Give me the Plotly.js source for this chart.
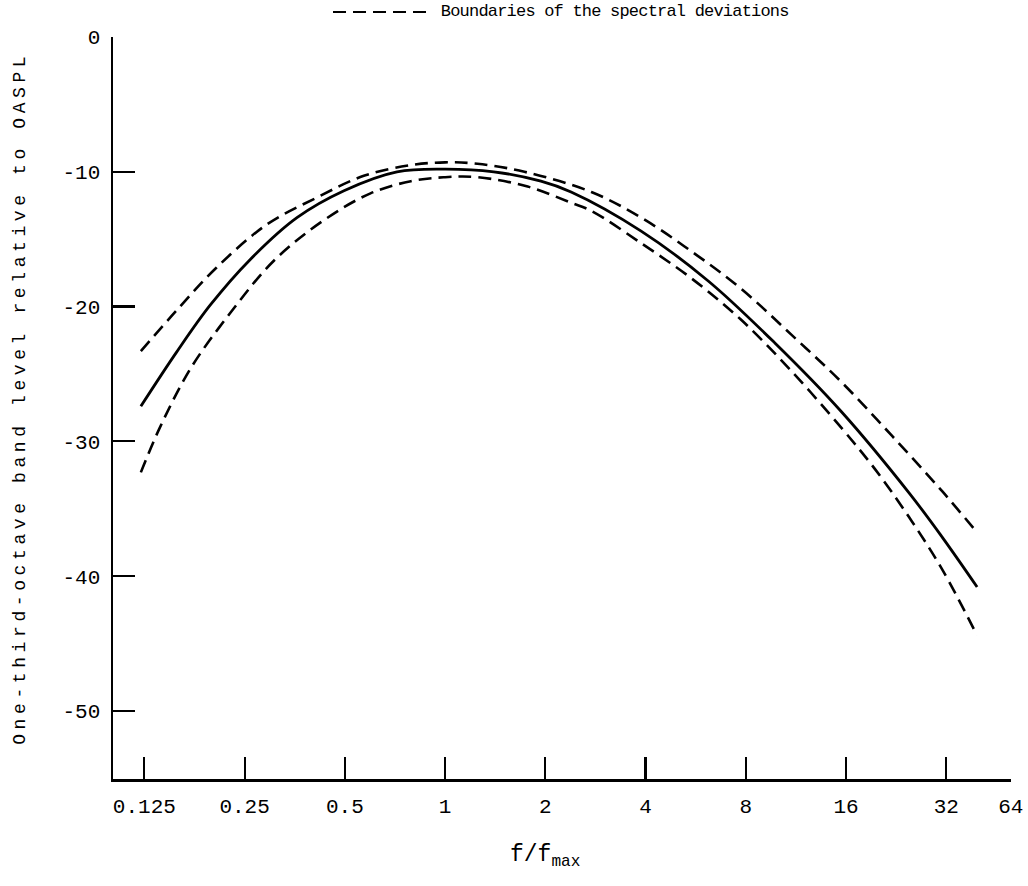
<!DOCTYPE html>
<html>
<head>
<meta charset="utf-8">
<script src="https://cdn.plot.ly/plotly-3.0.1.min.js"></script>
<style>
  html, body { margin: 0; padding: 0; background: #fff; }
  #chart { width: 1028px; height: 886px; }
  g.annotation[data-index="1"] text { letter-spacing: 4.6px; }
  g.annotation[data-index="2"] text { letter-spacing: -0.8px; }
</style>
</head>
<body>
<div id="chart"></div>
<script>
// f/fmax values and one-third-octave band level relative to OASPL (dB)
const solidX = [0.122, 0.156, 0.197, 0.260, 0.359, 0.497, 0.717, 1.0, 1.40, 1.94, 2.39, 3.88, 6.17, 9.78, 15.5, 24.7, 31.1, 39.6];
const solidY = [-27.4, -23.4, -19.9, -16.5, -13.4, -11.4, -10.0, -9.8, -10.0, -10.7, -11.5, -14.4, -18.1, -22.7, -27.8, -33.8, -37.1, -40.8];

const upperX = [0.122, 0.156, 0.206, 0.292, 0.413, 0.570, 0.789, 1.0, 1.25, 1.73, 2.75, 3.88, 5.49, 7.76, 10.98, 15.5, 22.0, 31.1, 39.1];
const upperY = [-23.3, -20.3, -17.1, -13.9, -11.9, -10.3, -9.5, -9.3, -9.4, -10.0, -11.5, -13.4, -15.9, -18.7, -22.1, -25.6, -29.6, -33.7, -36.6];

const lowerX = [0.122, 0.139, 0.172, 0.226, 0.306, 0.432, 0.597, 0.789, 1.0, 1.25, 1.77, 2.39, 2.75, 3.88, 5.49, 7.76, 10.98, 15.5, 19.6, 24.7, 31.1, 39.6];
const lowerY = [-32.3, -29.0, -24.6, -20.5, -16.6, -13.6, -11.6, -10.7, -10.4, -10.4, -11.1, -12.3, -12.9, -15.3, -17.9, -21.0, -24.8, -29.0, -32.1, -35.6, -39.5, -44.4];

const xTickVals = [0.125, 0.25, 0.5, 1, 2, 4, 8, 16, 32, 50];
const xTickText = ["0.125", "0.25", "0.5", "1", "2", "4", "8", "16", "32", "64"];
const yTickVals = [0, -10, -20, -30, -40, -50];
const yTickText = ["0", "-10", "-20", "-30", "-40", "-50"];

const legendLabel = "Boundaries of the spectral deviations";
const xTitle = "f/f<sub>max</sub>";
const yTitle = "One-third-octave band level relative to OASPL";

const FONT = "Liberation Mono, Courier New, monospace";
const DASH = "13px,7px";

const traces = [
  { x: upperX, y: upperY, mode: "lines", line: { color: "#000", width: 2.6, dash: DASH, shape: "spline", smoothing: 1 }, showlegend: false, hoverinfo: "skip" },
  { x: solidX, y: solidY, mode: "lines", line: { color: "#000", width: 2.8, shape: "spline", smoothing: 1 }, showlegend: false, hoverinfo: "skip" },
  { x: lowerX, y: lowerY, mode: "lines", line: { color: "#000", width: 2.6, dash: DASH, shape: "spline", smoothing: 1 }, showlegend: false, hoverinfo: "skip" }
];

const layout = {
  width: 1028, height: 886,
  margin: { l: 113, r: 17, t: 37, b: 107 },
  paper_bgcolor: "#fff", plot_bgcolor: "#fff",
  font: { family: FONT, color: "#000" },
  showlegend: false,
  xaxis: {
    type: "log", range: [-0.9973, 1.6995],
    showline: true, linewidth: 2.5, linecolor: "#000",
    ticks: "inside", ticklen: 22, tickwidth: 2.2, tickcolor: "#000",
    tickvals: xTickVals, ticktext: xTickText,
    tickfont: { family: FONT, size: 21, color: "#000" },
    ticklabelstandoff: 6,
    showgrid: false, zeroline: false, fixedrange: true
  },
  yaxis: {
    range: [-55.05, 0],
    showline: true, linewidth: 2.5, linecolor: "#000",
    ticks: "inside", ticklen: 22, tickwidth: 2.2, tickcolor: "#000",
    tickvals: yTickVals, ticktext: yTickText,
    tickfont: { family: FONT, size: 21, color: "#000" },
    ticklabelstandoff: 6,
    showgrid: false, zeroline: false, fixedrange: true
  },
  shapes: [
    { type: "line", xref: "paper", yref: "paper", x0: 0.245, x1: 0.353, y0: 1.0337, y1: 1.0337,
      line: { color: "#000", width: 2, dash: DASH } }
  ],
  annotations: [
    { text: xTitle, xref: "paper", yref: "paper", x: 0.481, y: -0.104, xanchor: "center", yanchor: "middle",
      showarrow: false, font: { family: FONT, size: 23, color: "#000" } },
    { text: yTitle, xref: "paper", yref: "paper", x: -0.1036, y: 0.513, xanchor: "center", yanchor: "middle",
      textangle: -90, showarrow: false, font: { family: FONT, size: 18, color: "#000" } },
    { text: legendLabel, xref: "paper", yref: "paper", x: 0.5585, y: 1.0337, xanchor: "center", yanchor: "middle",
      showarrow: false, font: { family: FONT, size: 17, color: "#000" } }
  ]
};

Plotly.newPlot("chart", traces, layout, { displayModeBar: false, staticPlot: true });
</script>
</body>
</html>
